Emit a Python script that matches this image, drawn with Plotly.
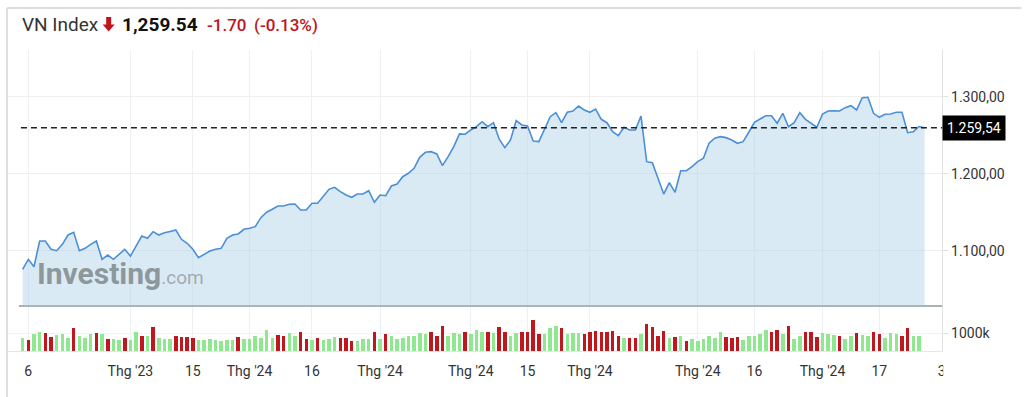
import plotly.graph_objects as go

W, H = 1024, 397

# ---------------- data ----------------
title_name = "VN Index"

price = [
    1075.8, 1088.8, 1079.2, 1112.6, 1112.6, 1101.8, 1100.0, 1108.3, 1120.4, 1123.9,
    1100.0, 1103.1, 1108.3, 1112.6, 1088.8, 1094.4, 1088.8, 1095.3, 1101.8, 1093.1,
    1105.2, 1119.1, 1116.1, 1124.7, 1120.4, 1123.4, 1124.9, 1126.9, 1114.8, 1109.6,
    1101.8, 1090.9, 1095.3, 1099.6, 1101.8, 1103.1, 1116.1, 1120.4, 1121.7, 1127.8,
    1129.1, 1131.2, 1142.9, 1149.9, 1153.8, 1158.1, 1158.1, 1160.3, 1160.6, 1152.9,
    1152.9, 1161.6, 1161.6, 1170.1, 1179.7,
    1182.3, 1176.6, 1172.3, 1169.4, 1173.6, 1173.6, 1177.9, 1162.9, 1172.3, 1171.4,
    1184.0, 1186.6, 1196.1, 1200.5, 1207.0, 1221.3, 1227.8, 1228.6, 1225.6, 1210.4,
    1222.1, 1235.1, 1251.6, 1251.2, 1256.8, 1261.0, 1267.5, 1261.0, 1266.2, 1244.7,
    1233.8, 1243.8, 1268.8, 1263.2, 1261.9, 1242.5, 1241.6, 1257.7, 1274.0, 1279.2,
    1266.2, 1279.7, 1281.4, 1287.9, 1282.7, 1279.7, 1284.0, 1270.6, 1266.2, 1254.5,
    1249.4, 1260.3, 1256.8, 1256.8, 1274.9,
    1215.6, 1214.3, 1194.0, 1173.6, 1188.3, 1175.8, 1203.9, 1203.9, 1209.1, 1215.6,
    1220.0, 1239.5, 1246.0, 1248.1, 1246.8, 1243.8, 1239.5, 1241.6, 1253.8, 1266.8,
    1271.0, 1275.3, 1275.3, 1265.5, 1278.4, 1261.0, 1266.2, 1279.2, 1270.6, 1265.5,
    1260.3, 1277.5, 1281.4, 1281.8, 1281.4, 1285.7, 1288.3, 1282.7, 1298.7, 1299.2,
    1278.4, 1273.2, 1277.1, 1277.5, 1279.7, 1279.7, 1253.2, 1254.5, 1261.24, 1259.54,
]

volume_k = [
    740, 610, 925, 1075, 1020, 795, 890, 925, 705, 1260,
    850, 705, 925, 1020, 925, 650, 650, 610, 705, 610,
    1075, 850, 850, 1315, 705, 650, 650, 850, 760, 760,
    705, 610, 610, 640,
    610, 555, 610, 610, 760, 665, 665, 835, 740, 1165,
    740, 890, 850, 980, 850, 1075, 650, 610, 740,
    610, 665, 795, 705, 705, 555, 555, 665, 665, 1075,
    665, 925, 850, 665, 705, 835, 850, 980, 945, 1035,
    850, 1405, 850, 1020, 945, 1075, 945, 1165, 1035, 1075,
    1020, 1315, 1035, 850, 980, 1075, 1075, 1720, 925, 925,
    1260, 1390, 1260, 945, 1020, 1020, 945, 1035, 1110, 1035,
    1035, 1110, 850, 705, 705, 705,
    925, 1500, 1315, 850, 1110, 705, 795, 850, 555, 650,
    555, 650, 835, 705, 1035, 760, 740, 795, 610, 835,
    850, 945, 1165, 1035, 1165, 925, 1405, 665, 850, 1075,
    1075, 760, 1020, 925, 890, 850, 665, 835, 1020, 890,
    850, 1075, 925, 740, 980, 925, 850, 1260, 850, 850,
]

vol_dir = list(
    "GRGGRRGGGRGGGRGRGGRGGRGRGGGRRRRGG" + "G" + "GGGGRGGGGGGRRGGRRGR"
    + "GGGRRRGGGRGRGGGGGGGRRRGGGRGGGRGRRGGRRRRGGGRGGGRRRRRRRGRR"
    + "GRRRRGRGRGGGGGGRRRGGGGGRRGRGGRRRGGGRGGRGGRRGGGRRGG"
)

tick_idx = [1, 19, 30, 40, 51, 63, 79, 89, 100, 119, 129, 141, 151, 162]
tick_text = ["6", "Thg '23", "15", "Thg '24", "16", "Thg '24", "Thg '24",
             "15", "Thg '24", "Thg '24", "16", "Thg '24", "17", "3"]

price_ticks = [1100, 1200, 1300]
vol_ticks = [1000]
vol_tick_text = ["1000k"]

# ---------------- derived ----------------
last_price = price[-1]
change = last_price - price[-2]
pct = change / price[-2] * 100
price_label = f"{last_price:,.2f}".replace(",", "X").replace(".", ",").replace("X", ".")

FONT = "Roboto, Arial, sans-serif"
UP = "#8fe88f"
DOWN = "#c0161e"
RED_TXT = "#c0141c"


def px(x):
    return x / W


def py(y):
    return (H - y) / H


def path(points):
    return "M " + " L ".join(f"{px(a):.5f},{py(b):.5f}" for a, b in points) + " Z"


fig = go.Figure()

fig.add_trace(go.Scatter(
    x=list(range(len(price))), y=price, mode="lines",
    line=dict(color="#4a8fd8", width=1.6),
    fill="tozeroy", fillcolor="rgba(167,205,230,0.42)",
    hoverinfo="skip", xaxis="x", yaxis="y",
))

fig.add_trace(go.Bar(
    x=list(range(len(volume_k))), y=volume_k,
    marker=dict(color=[UP if d == "G" else DOWN for d in vol_dir], line=dict(width=0)),
    width=0.62, hoverinfo="skip", xaxis="x", yaxis="y2",
))

fig.update_layout(
    width=W, height=H,
    margin=dict(l=0, r=0, t=0, b=0),
    paper_bgcolor="white", plot_bgcolor="white",
    showlegend=False,
    separators=",.",
    font=dict(family=FONT, color="#333333", size=14),
    bargap=0,
    xaxis=dict(
        domain=[px(7), px(945)], range=[-2.76, 162.1], anchor="y2",
        tickvals=tick_idx, ticktext=tick_text, ticks="",
        ticklabelstandoff=7,
        tickfont=dict(family=FONT, size=14, color="#333333"),
        showgrid=True, gridcolor="#eef1f4", gridwidth=1,
        showline=True, linecolor="#e6e6e6", linewidth=1,
        zeroline=False, fixedrange=True,
    ),
    yaxis=dict(
        domain=[py(306), py(50)], range=[1028.2, 1360.6], anchor="x", side="right",
        tickvals=price_ticks, tickformat=",.2f",
        ticks="outside", ticklen=5, tickcolor="#dedede",
        tickfont=dict(family=FONT, size=14, color="#333333"),
        showgrid=True, gridcolor="#efefef",
        showline=True, linecolor="#e3e3e3", linewidth=1,
        zeroline=False, fixedrange=True,
    ),
    yaxis2=dict(
        domain=[py(351), py(306)], range=[0, 2500], anchor="x", side="right",
        tickvals=vol_ticks, ticktext=vol_tick_text,
        ticks="outside", ticklen=5, tickcolor="#dedede",
        tickfont=dict(family=FONT, size=14, color="#333333"),
        showgrid=True, gridcolor="#f2f2f2",
        showline=True, linecolor="#e3e3e3", linewidth=1,
        zeroline=False, fixedrange=True,
    ),
)

shapes = [
    # widget frame
    dict(type="line", xref="paper", yref="paper", x0=px(7), x1=1, y0=py(8), y1=py(8),
         line=dict(color="#d3d3d3", width=1.5)),
    dict(type="line", xref="paper", yref="paper", x0=px(7), x1=px(7), y0=py(8), y1=0,
         line=dict(color="#d3d3d3", width=1.5)),
    # separator between price and volume panes
    dict(type="line", xref="paper", yref="paper", x0=px(19), x1=px(945), y0=py(306), y1=py(306),
         line=dict(color="#aab3b6", width=2), layer="above"),
    # current price dashed line
    dict(type="line", xref="paper", yref="y", x0=px(21), x1=px(945), y0=last_price, y1=last_price,
         line=dict(color="#222222", width=1.5, dash="6px,4px"), layer="above"),
    # clip of the last x label
    dict(type="rect", xref="paper", yref="paper", x0=px(946), x1=px(962), y0=py(385), y1=py(358),
         fillcolor="white", line=dict(width=0), layer="above"),
    # red down arrow in header
    dict(type="path", xref="paper", yref="paper",
         path=path([(106.5, 17), (111.5, 17), (111.5, 24.5), (115, 24.5), (109, 31.5),
                    (103, 24.5), (106.5, 24.5)]),
         fillcolor=RED_TXT, line=dict(width=0), layer="above"),
]
fig.update_layout(shapes=shapes)

ann = [
    dict(text=price_label, x=px(945), xref="paper", y=last_price, yref="y",
         xanchor="left", yanchor="middle", showarrow=False,
         bgcolor="#000000", borderpad=4,
         font=dict(family=FONT, size=14, color="white")),
    dict(text=title_name, x=px(20), y=py(24.5), xref="paper", yref="paper",
         xanchor="left", yanchor="middle", showarrow=False,
         font=dict(family=FONT, size=19, color="#333333")),
    dict(text=f"<b>{last_price:,.2f}</b>", x=px(120), y=py(24.5), xref="paper", yref="paper",
         xanchor="left", yanchor="middle", showarrow=False,
         font=dict(family=FONT, size=19, color="#111111")),
    dict(text=f"{change:.2f}", x=px(206), y=py(24.5), xref="paper", yref="paper",
         xanchor="left", yanchor="middle", showarrow=False,
         font=dict(family=FONT, size=17, color=RED_TXT, weight=500)),
    dict(text=f"({pct:.2f}%)", x=px(253), y=py(24.5), xref="paper", yref="paper",
         xanchor="left", yanchor="middle", showarrow=False,
         font=dict(family=FONT, size=17, color=RED_TXT, weight=500)),
    dict(text="<b>Investing</b><span style='font-size:19px;color:#a3abaf'>.com</span>",
         x=px(35), y=py(273), xref="paper", yref="paper",
         xanchor="left", yanchor="middle", showarrow=False,
         font=dict(family=FONT, size=30, color="#8d989c")),
]
fig.update_layout(annotations=ann)

fig.write_html(
    "out.html",
    config={"displayModeBar": False},
    post_script="document.body.style.margin='0';document.body.style.padding='0';",
)
